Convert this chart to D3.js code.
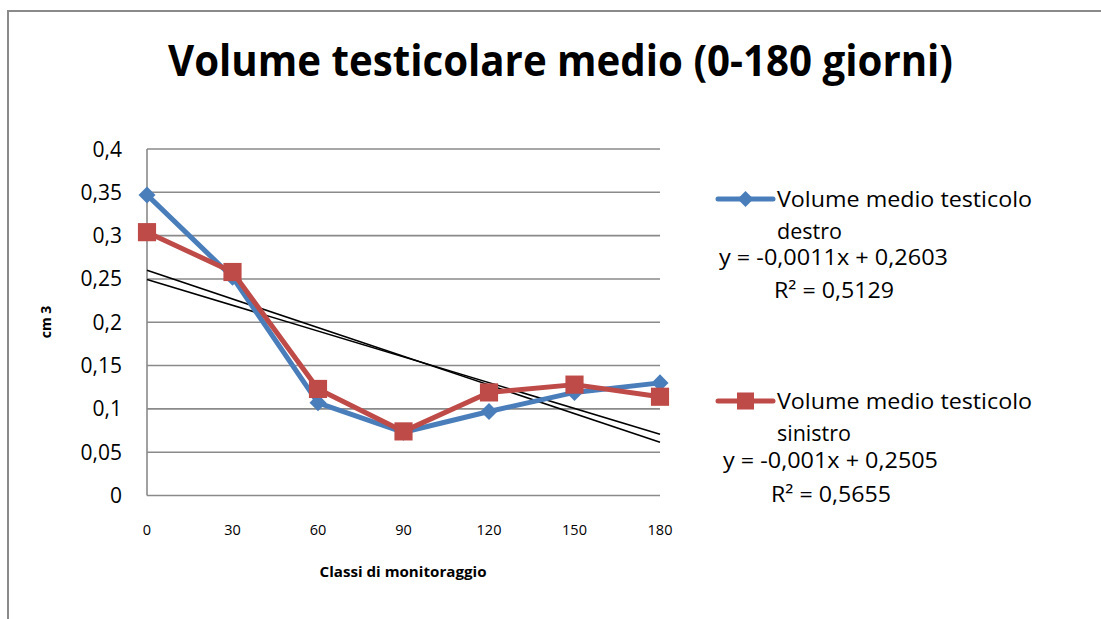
<!DOCTYPE html>
<meta charset="utf-8">
<style>
html, body { margin: 0; padding: 0; background: #fff; }
svg { display: block; font-family: "Open Sans", "Noto Sans", sans-serif; }
.grid line { stroke: #8a8a8a; stroke-width: 1.6; }
</style>
<svg id="chart" width="1101" height="619"></svg>
<script src="https://d3js.org/d3.v7.min.js"></script>
<script>
// ********** DATA **********
var days = [0, 30, 60, 90, 120, 150, 180];
var destro = [0.347, 0.252, 0.107, 0.073, 0.097, 0.119, 0.130];
var sinistro = [0.304, 0.258, 0.123, 0.074, 0.119, 0.128, 0.114];
var yTicks = [0, 0.05, 0.1, 0.15, 0.2, 0.25, 0.3, 0.35, 0.4];
var seriesNames = ["Volume medio testicolo destro", "Volume medio testicolo sinistro"];
var trendLabels = [["y = -0,0011x + 0,2603", "R² = 0,5129"], ["y = -0,001x + 0,2505", "R² = 0,5655"]];

var svg = d3.select("#chart");

// outer frame (right and bottom edges fall outside the picture)
svg.append("rect").attr("x", 8).attr("y", 11).attr("width", 1110).attr("height", 630)
  .attr("fill", "none").attr("stroke", "#8a8a8a").attr("stroke-width", 2);

var x = d3.scaleLinear().domain([0, 180]).range([147, 660]);
var y = d3.scaleLinear().domain([0, 0.4]).range([495.5, 149]);
var fmt = function (v) { return String(+v.toFixed(2)).replace(".", ","); };

// title
svg.append("text").attr("x", 560.5).attr("y", 76).attr("text-anchor", "middle")
  .attr("font-size", 43).attr("font-weight", "bold")
  .attr("textLength", 785).attr("lengthAdjust", "spacingAndGlyphs")
  .text("Volume testicolare medio (0-180 giorni)");

// gridlines
var grid = svg.append("g").attr("class", "grid");
grid.selectAll("line").data(yTicks).enter().append("line")
  .attr("x1", x(0)).attr("x2", x(180))
  .attr("y1", function (d) { return y(d); }).attr("y2", function (d) { return y(d); });
grid.append("line").attr("x1", x(0)).attr("x2", x(0)).attr("y1", y(0)).attr("y2", y(0.4));

// y tick labels
svg.append("g").selectAll("text").data(yTicks).enter().append("text")
  .attr("x", 122).attr("y", function (d) { return y(d) + 7.5; })
  .attr("text-anchor", "end").attr("font-size", 21).attr("fill", "#000")
  .text(fmt);

// x tick labels
svg.append("g").selectAll("text").data(days).enter().append("text")
  .attr("x", function (d) { return x(d); }).attr("y", 535)
  .attr("text-anchor", "middle").attr("font-size", 14.5)
  .text(function (d) { return d; });

// axis titles
svg.append("text").attr("x", 403).attr("y", 577).attr("text-anchor", "middle")
  .attr("font-size", 13.5).attr("font-weight", "bold")
  .attr("textLength", 167).attr("lengthAdjust", "spacingAndGlyphs")
  .text("Classi di monitoraggio");
svg.append("text").attr("transform", "translate(51,322)rotate(-90)")
  .attr("text-anchor", "middle").attr("font-size", 14).attr("font-weight", "bold")
  .text("cm 3");

// linear trend lines (least squares on each series)
function fit(vals) {
  var mx = d3.mean(days), my = d3.mean(vals);
  var sxy = d3.sum(days, function (d, i) { return (d - mx) * (vals[i] - my); });
  var sxx = d3.sum(days, function (d) { return (d - mx) * (d - mx); });
  var b = sxy / sxx;
  return { b: b, a: my - b * mx };
}
[destro, sinistro].forEach(function (vals) {
  var f = fit(vals);
  svg.append("line")
    .attr("x1", x(0)).attr("y1", y(f.a))
    .attr("x2", x(180)).attr("y2", y(f.a + f.b * 180))
    .attr("stroke", "#000").attr("stroke-width", 1.6);
});

// series
var colors = ["#4A7EBB", "#BE4B48"];
var line = d3.line().x(function (d, i) { return x(days[i]); }).y(function (d) { return y(d); });
var diamond = d3.symbol().type(d3.symbolDiamond2).size(185);
var square = d3.symbol().type(d3.symbolSquare).size(330);
var shapes = [diamond, square];

[destro, sinistro].forEach(function (vals, k) {
  var g = svg.append("g");
  g.append("path").attr("d", line(vals)).attr("fill", "none")
    .attr("stroke", colors[k]).attr("stroke-width", 5).attr("stroke-linejoin", "round");
  g.selectAll("path.m").data(vals).enter().append("path").attr("class", "m")
    .attr("d", shapes[k])
    .attr("transform", function (d, i) { return "translate(" + x(days[i]) + "," + y(d) + ")"; })
    .attr("fill", colors[k]);
});

// legend
var legendY = [199, 401];
var legend = svg.append("g");
seriesNames.forEach(function (name, k) {
  var ly = legendY[k];
  var words = name.split(" ");
  legend.append("line").attr("x1", 718).attr("x2", 773).attr("y1", ly).attr("y2", ly)
    .attr("stroke", colors[k]).attr("stroke-width", 5).attr("stroke-linecap", "round");
  legend.append("path").attr("d", k === 0 ? d3.symbol().type(d3.symbolDiamond2).size(165)()
      : d3.symbol().type(d3.symbolSquare).size(290)())
    .attr("transform", "translate(745.5," + ly + ")").attr("fill", colors[k]);
  legend.append("text").attr("x", 777).attr("y", ly + 8).attr("font-size", 21.5)
    .attr("textLength", 255).attr("lengthAdjust", "spacingAndGlyphs")
    .text(words.slice(0, 3).join(" "));
  legend.append("text").attr("x", 777).attr("y", ly + 39.5).attr("font-size", 21.5)
    .text(words[3]);
});

// trend equations
var eqPos = [[719, 265, 229, 774, 297.5, 120], [723, 468, 215, 771, 501.5, 120]];
trendLabels.forEach(function (t, k) {
  var p = eqPos[k];
  svg.append("text").attr("x", p[0]).attr("y", p[1]).attr("font-size", 21.5)
    .attr("textLength", p[2]).attr("lengthAdjust", "spacingAndGlyphs").text(t[0]);
  svg.append("text").attr("x", p[3]).attr("y", p[4]).attr("font-size", 21.5)
    .attr("textLength", p[5]).attr("lengthAdjust", "spacingAndGlyphs").text(t[1]);
});
</script>
